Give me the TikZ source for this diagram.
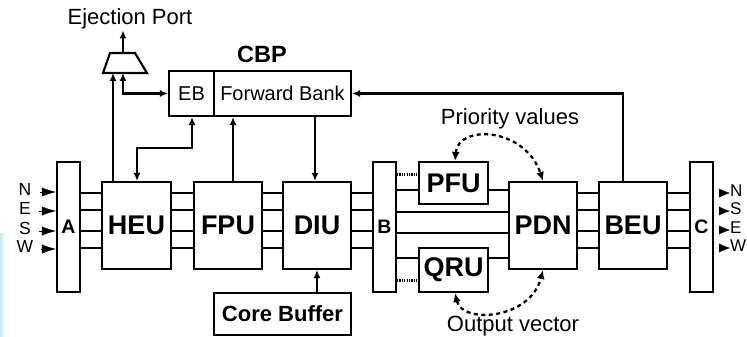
\documentclass[tikz,border=0pt]{standalone}
\usepackage{fontspec}
\setmainfont{Liberation Sans}
\usepackage{tikz}
\usetikzlibrary{arrows.meta}

\tikzset{
  unit/.style={draw,line width=2.1pt,inner sep=0pt,minimum width=68pt,minimum height=87pt,font=\fontsize{27}{27}\selectfont\bfseries},
  bar/.style={draw,line width=2.1pt,inner sep=0pt,minimum width=23pt,minimum height=130pt,font=\fontsize{19.5}{19.5}\selectfont\bfseries},
  bank/.style={draw,line width=2.1pt,inner sep=0pt,minimum height=45pt,font=\fontsize{20}{20}\selectfont},
  txt/.style={inner sep=1pt,font=\fontsize{22}{22}\selectfont},
  dir/.style={inner sep=0pt,text height=0.7em,text depth=0pt,font=\fontsize{17.5}{17.5}\selectfont},
  wire/.style={line width=2.1pt},
  dots/.style={line width=3pt,dash pattern=on 1.2pt off 1.2pt},
  arr/.style={-{Latex[length=8pt,width=7pt]},line width=2.1pt},
  dblarr/.style={{Latex[length=8pt,width=7pt]}-{Latex[length=8pt,width=7pt]},line width=2.1pt},
  dasharr/.style={{Latex[length=9pt,width=8pt]}-{Latex[length=9pt,width=8pt]},line width=2.3pt,dash pattern=on 4pt off 3.5pt},
  tip/.style={-{Latex[length=14pt,width=9pt]},line width=0.4pt}
}

\begin{document}
\begin{tikzpicture}[x=1pt,y=-1pt]
  \useasboundingbox (0,0) rectangle (747,337);
  \fill[cyan!22] (0,233) rectangle (3,337);

  % crossbars and units
  \node[bar] (A) at (68.5,227) {A};
  \node[unit,minimum width=69pt] (HEU) at (136.5,225.5) {HEU};
  \node[unit] (FPU) at (228,225.5) {FPU};
  \node[unit] (DIU) at (317,225.5) {DIU};
  \node[bar] (B) at (384.5,227) {B};
  \node[unit,minimum width=69pt,minimum height=42pt] (PFU) at (453.5,183) {PFU};
  \node[unit,minimum width=69pt,minimum height=44pt] (QRU) at (453.5,270) {QRU};
  \node[unit] (PDN) at (543,225.5) {PDN};
  \node[unit] (BEU) at (633,225.5) {BEU};
  \node[bar] (C) at (701.5,227) {C};
  \node[unit,minimum width=137pt,minimum height=42pt,font=\fontsize{22}{22}\selectfont\bfseries] (CB) at (282.5,314) {Core Buffer};

  % CBP
  \node[bank,minimum width=45pt] (EB) at (191.5,93.5) {EB};
  \node[bank,minimum width=137pt] (FB) at (282.5,93.5) {Forward Bank};
  \node[inner sep=0pt,font=\fontsize{23.5}{23.5}\selectfont\bfseries] (cbp) at (262,54) {CBP};

  % ejection mux
  \draw[line width=2.1pt] (103,73) -- (110,53) -- (135,53) -- (147,73) -- cycle;
  \coordinate (muxA) at (113,73);
  \coordinate (muxB) at (123,73);
  \coordinate (muxO) at (123,53);
  \node[txt] (ej) at (130,19) {Ejection Port};
  \draw[arr] (muxO) -- (ej.south -| muxO);
  \draw[arr] (HEU.north -| muxA) -- (muxA);
  \draw[dblarr] (muxB) |- (EB.west);
  \draw[dblarr] (HEU.north -| 137,0) |- (192,148) -- (EB.south -| 192,0);
  \draw[arr] (FPU.north -| 233,0) -- (FB.south -| 233,0);
  \draw[arr] (FB.south -| 315,0) -- (DIU.north -| 315,0);
  \draw[arr] (BEU.north -| 623,0) |- (FB.east);
  \draw[arr] (CB.north -| DIU.south) -- (DIU.south);

  % 4-wide links
  \foreach \a/\b in {A/HEU,HEU/FPU,FPU/DIU,DIU/B,PDN/BEU,BEU/C}
    \foreach \y in {193,210,231,248}
      \draw[wire] (\a.east |- 0,\y) -- (\b.west |- 0,\y);

  % B to PFU / PDN / QRU
  \draw[dots] (B.east |- 0,174) -- (PFU.west |- 0,174);
  \draw[wire] (B.east |- 0,190) -- (PFU.west |- 0,190);
  \draw[wire] (PFU.east |- 0,190) -- (PDN.west |- 0,190);
  \draw[wire] (B.east |- 0,212) -- (PDN.west |- 0,212);
  \draw[wire] (B.east |- 0,233) -- (PDN.west |- 0,233);
  \draw[wire] (B.east |- 0,258) -- (QRU.west |- 0,258);
  \draw[wire] (QRU.east |- 0,258) -- (PDN.west |- 0,258);
  \draw[dots] (B.east |- 0,280) -- (QRU.west |- 0,280);

  % feedback arcs
  \node[txt] (pv) at (510,119) {Priority values};
  \node[txt] (ov) at (513,326) {Output vector};
  \draw[dasharr] (PFU.north -| 455,0) .. controls (458,124) and (525,127) .. (PDN.north -| 543,0);
  \draw[dasharr] (QRU.south -| 455,0) .. controls (462,324) and (530,320) .. (PDN.south -| 543,0);

  % ports
  \foreach \n/\y in {N/192,E/211,S/231,W/249} {
    \node[dir] (in\n) at (25,\y) {\n};
    \draw[tip,shorten <=8pt] (in\n.east) -- (A.west |- 0,\y);
  }
  \foreach \n/\y in {N/193,S/211,E/230,W/248} {
    \node[dir,anchor=west,font=\fontsize{17}{17}\selectfont] (out\n) at (730,\y) {\n};
    \draw[tip,shorten <=7pt,-{Latex[length=11pt,width=9pt]}] (C.east |- 0,\y) -- (out\n.west);
  }
\end{tikzpicture}
\end{document}
